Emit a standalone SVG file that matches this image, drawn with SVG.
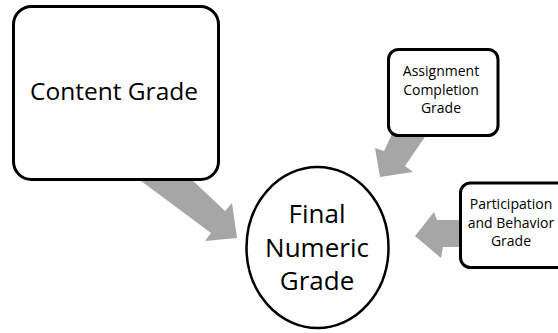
<svg xmlns="http://www.w3.org/2000/svg" width="558" height="333" viewBox="0 0 558 333">
<style>
.box{fill:#fff;stroke:#000;stroke-width:3}
.circ{fill:#fff;stroke:#000;stroke-width:2.5}
.arrow{fill:#A6A6A6;stroke:none}
text{font-family:"Open Sans","Liberation Sans",sans-serif;fill:#000;text-anchor:middle}
.big{font-size:24.5px}
.mid{font-size:26px}
.small{font-size:14px}
</style>
<rect width="558" height="333" fill="#fff"/>
<g id="connectors">
<polygon class="arrow" points="137,178 190,178 225,211 232,203 237,238 205,241 211,233"/>
<polygon class="arrow" points="392,134 427,134 405,166 413,172 380,177 375,148 384,151"/>
<polygon class="arrow" points="462,220 437,220 434,212 415,236 441,258 443,247 462,247"/>
</g>
<g id="content-grade">
<rect class="box" x="13.5" y="6.5" width="205" height="173" rx="18"/>
<text class="big" x="114" y="100">Content Grade</text>
</g>
<g id="assignment-grade">
<rect class="box" x="388.5" y="49.5" width="109.5" height="86" rx="10"/>
<text class="small" x="441" y="76">Assignment</text>
<text class="small" x="441" y="94.5">Completion</text>
<text class="small" x="441" y="113">Grade</text>
</g>
<g id="participation-grade">
<rect class="box" x="460.5" y="183" width="120" height="84.5" rx="10"/>
<text class="small" x="511" y="209">Participation</text>
<text class="small" x="511" y="227.5">and Behavior</text>
<text class="small" x="511" y="246">Grade</text>
</g>
<g id="final-grade">
<ellipse class="circ" cx="317.5" cy="247.5" rx="71" ry="80.5"/>
<text class="mid" x="317" y="223">Final</text>
<text class="mid" x="317" y="257">Numeric</text>
<text class="mid" x="317" y="290">Grade</text>
</g>
</svg>
